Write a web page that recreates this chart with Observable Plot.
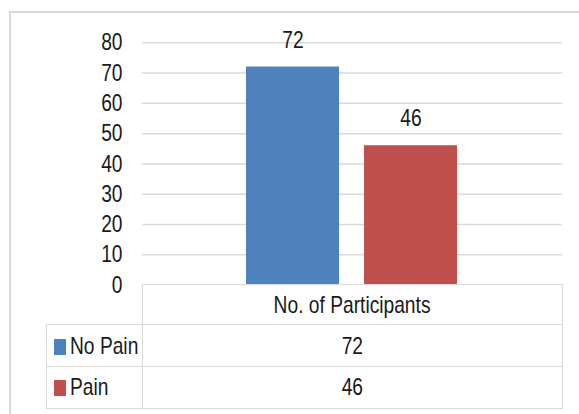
<!DOCTYPE html>
<html>
<head>
<meta charset="utf-8">
<script src="https://cdn.jsdelivr.net/npm/d3@7"></script>
<script src="https://cdn.jsdelivr.net/npm/@observablehq/plot@0.6"></script>
<style>
  html, body { margin: 0; padding: 0; background: #fff; width: 579px; height: 414px; overflow: hidden; }
  body { position: relative; font-family: "Liberation Sans", Arial, sans-serif; color: #1a1a1a; }
  #frame { position: absolute; left: 9px; top: 11px; width: 620px; height: 440px; border: 2px solid #d9d9d9; box-sizing: border-box; }
  #chart { position: absolute; left: 0; top: 0; }
  #table { position: absolute; left: 46px; top: 284px; width: 516px; border-collapse: collapse; table-layout: fixed; font-size: 24px; }
  #table td { padding: 0; box-sizing: border-box; }
  .ln { border: 1.5px solid #d9d9d9; }
  .sq { display: inline-block; transform: scaleX(0.8); }
  .c { transform-origin: center center; }
  .l { transform-origin: left center; }
  .sw { display: inline-block; width: 12px; height: 16px; vertical-align: -1px; margin-left: 7px; margin-right: 4px; }
</style>
</head>
<body>
<div id="frame"></div>
<div id="chart"></div>
<table id="table"></table>
<script>
const categories = ["No Pain", "Pain"];
const values = [72, 46];
const colors = ["#4F81BD", "#C0504D"];
const groupLabel = "No. of Participants";
const yTicks = [0, 10, 20, 30, 40, 50, 60, 70, 80];

const data = categories.map((c, i) => ({series: c, value: values[i]}));
const SQ = 0.8;

const plot = Plot.plot({
  width: 579,
  height: 300,
  marginTop: 42.3,
  marginBottom: 15.5,
  marginLeft: 142,
  marginRight: 17,
  style: {fontFamily: '"Liberation Sans", Arial, sans-serif', fontSize: "24px", color: "#1a1a1a", background: "transparent", overflow: "visible"},
  x: {domain: categories, paddingInner: 0.21, paddingOuter: 0.87, axis: null},
  y: {domain: [0, 80]},
  color: {domain: categories, range: colors},
  marks: [
    Plot.gridY(yTicks.filter(t => t > 0), {stroke: "#d9d9d9", strokeOpacity: 1, strokeWidth: 1.5}),
    Plot.barY(data, {x: "series", y: "value", fill: "series"}),
    Plot.text(data, {x: "series", y: "value", text: d => String(d.value), dy: -27, lineAnchor: "middle", fontSize: 24, fill: "#1a1a1a"}),
    Plot.axisY({ticks: yTicks, tickSize: 0, tickPadding: 20, fontSize: 24, fill: "#1a1a1a", label: null})
  ]
});
// narrow the glyphs horizontally around each text's anchor point (Calibri-like look)
plot.querySelectorAll("text").forEach(t => {
  const tr = t.getAttribute("transform");
  if (tr) {
    t.setAttribute("transform", tr + ` scale(${SQ},1)`);
  } else {
    const x = +(t.getAttribute("x") || 0), y = +(t.getAttribute("y") || 0);
    t.removeAttribute("x"); t.removeAttribute("y");
    t.setAttribute("transform", `translate(${x},${y}) scale(${SQ},1)`);
  }
});
document.getElementById("chart").appendChild(plot);

// data table under the chart (acts as legend)
const tbl = document.getElementById("table");
let html = `<colgroup><col style="width:96px"><col style="width:420px"></colgroup>`;
html += `<tr style="height:40px"><td></td><td class="ln" style="text-align:center"><span class="sq c">${groupLabel}</span></td></tr>`;
const heights = [42, 41.5];
categories.forEach((c, i) => {
  html += `<tr style="height:${heights[i]}px"><td class="ln" style="text-align:left;white-space:nowrap"><span class="sw" style="background:${colors[i]}"></span><span class="sq l">${c}</span></td><td class="ln" style="text-align:center"><span class="sq c">${values[i]}</span></td></tr>`;
});
tbl.innerHTML = html;
</script>
</body>
</html>
